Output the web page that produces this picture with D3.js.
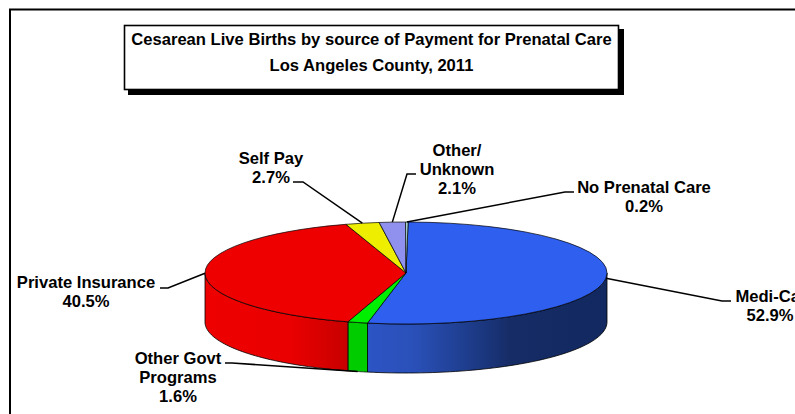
<!DOCTYPE html>
<html><head><meta charset="utf-8">
<script src="https://cdn.jsdelivr.net/npm/d3@7/dist/d3.min.js"></script>
<style>html,body{margin:0;padding:0;background:#fff;overflow:hidden}svg{display:block}
text{font-family:"Liberation Sans",Arial,sans-serif;font-weight:bold;font-size:16.6px;fill:#000;text-anchor:middle}</style>
</head><body><script>
const categories = ["Medi-Cal","Other Govt Programs","Private Insurance","Self Pay","Other/ Unknown","No Prenatal Care"];
const values = [52.9,1.6,40.5,2.7,2.1,0.2];
const labelLines = [["Medi-Cal","52.9%"],["Other Govt","Programs","1.6%"],["Private Insurance","40.5%"],["Self Pay","2.7%"],["Other/","Unknown","2.1%"],["No Prenatal Care","0.2%"]];
const topColors = ["#2e5fef","#00ee00","#ee0000","#eeee00","#9090ee","#b0e0e0"];
const titleLines = ["Cesarean Live Births by source of Payment for Prenatal Care","Los Angeles County, 2011"];

const W=795,H=414,cx=406,cy=273,rx=201,ry=51,depth=49;
const startDeg=0.6;
// label layout: centre x, first baseline y, leader elbow and end (text side)
const labelLayout=[
 {x:770,y:302,elbow:[722,301],end:[731,301],viaBottom:false},
 {x:178,y:364,elbow:[232,363],end:[225,363],viaBottom:true},
 {x:86,y:288,elbow:[168,288],end:[160,288],viaBottom:false},
 {x:271,y:164,elbow:[303,182],end:[293,182],viaBottom:false},
 {x:457,y:156,elbow:[407,174],end:[416,174],viaBottom:false},
 {x:644,y:193,elbow:[565,192],end:[574,192],viaBottom:false}];

const svg=d3.select("body").append("svg").attr("width",W).attr("height",H);
const defs=svg.append("defs");
const rad=d=>d*Math.PI/180;
const pie=d3.pie().sort(null).startAngle(rad(startDeg)).endAngle(rad(startDeg+360)).value(d=>d);
const arcs=pie(values);
const ex=a=>cx+rx*Math.sin(a), ey=a=>cy-ry*Math.cos(a);

function grad(id,x1,x2,stops){
  const g=defs.append("linearGradient").attr("id",id).attr("gradientUnits","userSpaceOnUse")
    .attr("x1",x1).attr("x2",x2).attr("y1",0).attr("y2",0);
  stops.forEach(s=>g.append("stop").attr("offset",s[0]).attr("stop-color",s[1]));
}
grad("wall0",367,607,[[0,"#2c54c4"],[0.2,"#2a50b8"],[0.45,"#1c3a86"],[0.6,"#162c66"],[1,"#122860"]]);
grad("wall1",346,368,[[0,"#00cc00"],[1,"#00cc00"]]);
grad("wall2",205,347,[[0,"#ee0000"],[0.6,"#ea0000"],[1,"#c80000"]]);

// frame
svg.append("rect").attr("x",10).attr("y",9.5).attr("width",W+20).attr("height",H+20)
  .attr("fill","#fff").attr("stroke","#000").attr("stroke-width",2);

// side walls (front half only)
const front0=Math.PI/2, front1=Math.PI*3/2;
const wallLine=d3.line();
arcs.forEach((d,i)=>{
  const a0=Math.max(d.startAngle,front0), a1=Math.min(d.endAngle,front1);
  if(a1<=a0) return;
  const n=60, ts=d3.range(n+1).map(k=>a0+(a1-a0)*k/n);
  const pts=ts.map(t=>[ex(t),ey(t)]).concat(ts.slice().reverse().map(t=>[ex(t),ey(t)+depth]));
  svg.append("path").attr("d",wallLine(pts)+"Z").attr("fill",`url(#wall${i})`)
    .attr("stroke","#000").attr("stroke-width",0.8).attr("stroke-linejoin","round");
});

// top face
const arc=d3.arc().innerRadius(0).outerRadius(rx);
const topFace=svg.append("g").attr("transform",`translate(${cx},${cy}) scale(1,${ry/rx})`);
topFace.selectAll("path").data(arcs).join("path").attr("d",arc)
  .attr("fill",(d,i)=>topColors[i]).attr("stroke","#000").attr("stroke-width",0.7)
  .attr("stroke-linejoin","round").attr("vector-effect","non-scaling-stroke");

// leaders
arcs.forEach((d,i)=>{
  const m=(d.startAngle+d.endAngle)/2, L=labelLayout[i];
  const p=[ex(m),ey(m)+(L.viaBottom?depth:0)];
  svg.append("path").attr("d",d3.line()([p,L.elbow,L.end])).attr("fill","none")
    .attr("stroke","#000").attr("stroke-width",1.5);
});

// labels
labelLines.forEach((lines,i)=>{
  const L=labelLayout[i];
  const t=svg.append("text").attr("y",L.y);
  lines.forEach((s,k)=>t.append("tspan").attr("x",L.x).attr("dy",k?19:0).text(s));
});

// title box
svg.append("rect").attr("x",128).attr("y",29).attr("width",496).attr("height",66).attr("fill","#000");
svg.append("rect").attr("x",124.5).attr("y",25.5).attr("width",494).attr("height",64).attr("fill","#fff").attr("stroke","#000").attr("stroke-width",1.6);
titleLines.forEach((s,i)=>svg.append("text").attr("x",371.5).attr("y",45+i*26).text(s));
</script></body></html>
